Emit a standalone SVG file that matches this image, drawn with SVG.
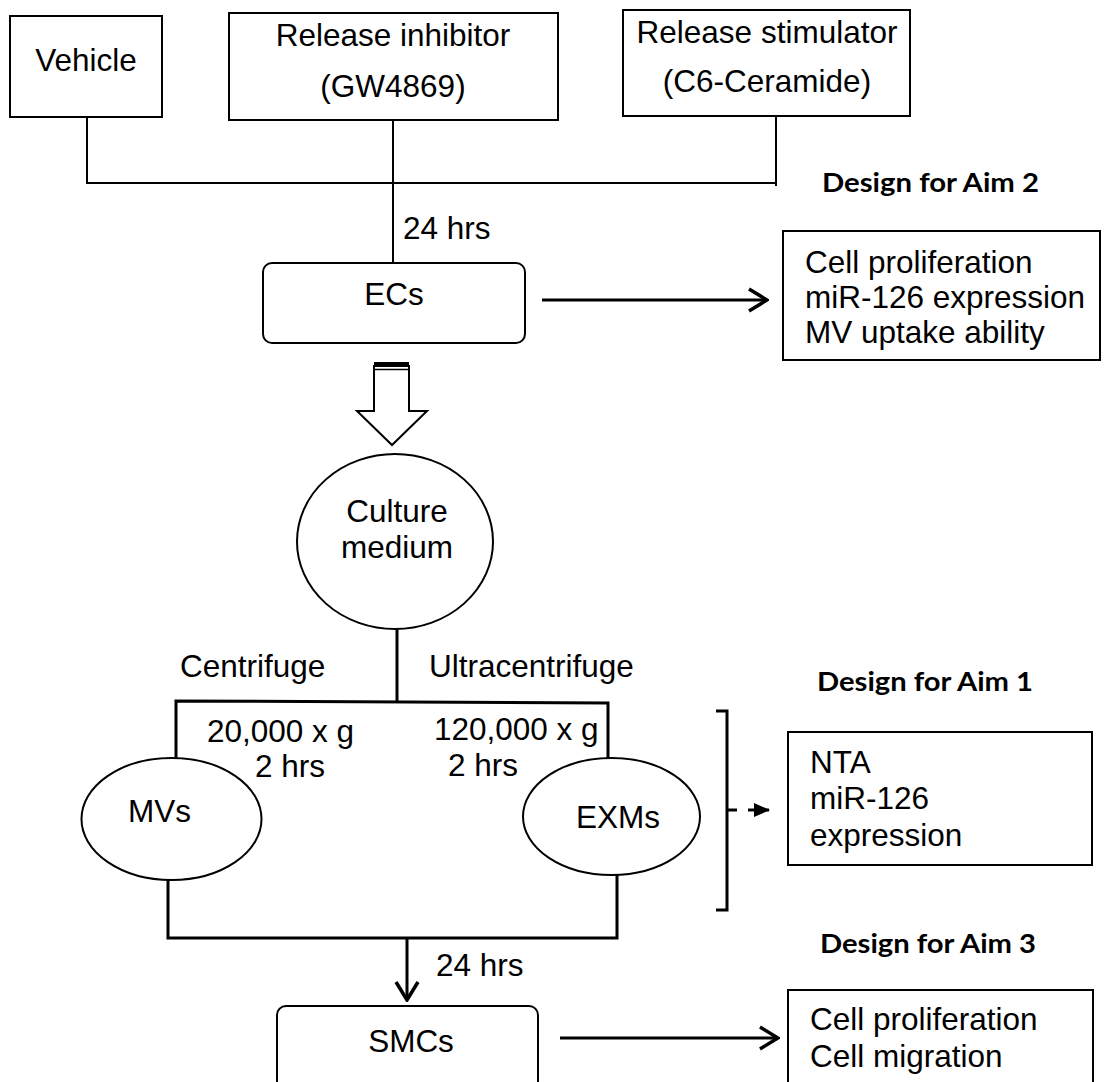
<svg xmlns="http://www.w3.org/2000/svg" width="1116" height="1082" viewBox="0 0 1116 1082">
<style>
.t{font-family:"Liberation Sans",Arial,sans-serif;font-size:31.5px;fill:#000}
.b{font-family:Lato,"Open Sans",sans-serif;font-size:26px;font-weight:bold;fill:#000}
.box{fill:#fff;stroke:#000;stroke-width:2}
.ln{fill:none;stroke:#000;stroke-width:2}
.tk{fill:none;stroke:#000;stroke-width:3}
</style>
<defs>
<marker id="chev" viewBox="0 0 22 26" refX="20" refY="13" markerWidth="22" markerHeight="26" markerUnits="userSpaceOnUse" orient="auto">
<path d="M2,2 L20,13 L2,24" fill="none" stroke="#000" stroke-width="3.5"/>
</marker>
<marker id="tri" viewBox="0 0 16 16" refX="15" refY="8" markerWidth="16" markerHeight="16" markerUnits="userSpaceOnUse" orient="auto">
<path d="M0,1 L16,8 L0,15 Z" fill="#000"/>
</marker>
</defs>
<rect width="1116" height="1082" fill="#fff"/>

<g id="connectors">
<polyline class="ln" points="87,117 87,183 776,183 776,116"/>
<line class="ln" x1="776" y1="183" x2="776" y2="186"/>
<line class="ln" x1="393" y1="120" x2="393" y2="263"/>
<line class="tk" x1="542" y1="300" x2="767" y2="300" marker-end="url(#chev)"/>
<line class="tk" x1="397" y1="629" x2="397" y2="701"/>
<polyline class="tk" points="176,758 176,701 608,703 608,759"/>
<polyline class="tk" points="168,880 168,938 617,938 617,875"/>
<line class="tk" x1="407" y1="938" x2="407" y2="1000" marker-end="url(#chev)"/>
<line class="tk" x1="560" y1="1038" x2="778" y2="1038" marker-end="url(#chev)"/>
<polyline class="tk" points="716,711 727,711 727,910 716,910"/>
<line x1="727" y1="810" x2="737" y2="810" stroke="#000" stroke-width="3"/>
<line x1="748" y1="810" x2="769" y2="810" stroke="#000" stroke-width="3" marker-end="url(#tri)"/>
</g>

<g id="vehicle">
<rect class="box" x="10" y="16" width="152" height="101"/>
<text class="t" x="86" y="71" text-anchor="middle">Vehicle</text>
</g>
<g id="inhibitor">
<rect class="box" x="229" y="13" width="329" height="107"/>
<text class="t" x="393" y="46" text-anchor="middle">Release inhibitor</text>
<text class="t" x="393" y="97" text-anchor="middle">(GW4869)</text>
</g>
<g id="stimulator">
<rect class="box" x="623" y="10" width="287" height="106"/>
<text class="t" x="767" y="43" text-anchor="middle">Release stimulator</text>
<text class="t" x="767" y="92" text-anchor="middle">(C6-Ceramide)</text>
</g>
<g id="label-aim2"><text class="b" x="822" y="192" textLength="217" lengthAdjust="spacingAndGlyphs">Design for Aim 2</text></g>
<g id="label-24a"><text class="t" x="403" y="239">24 hrs</text></g>
<g id="ecs">
<rect class="box" x="263" y="263" width="262" height="80" rx="9"/>
<text class="t" x="394" y="305" text-anchor="middle">ECs</text>
</g>
<g id="aim2-results">
<rect class="box" x="783" y="231" width="317" height="129"/>
<text class="t" x="805" y="273">Cell proliferation</text>
<text class="t" x="805" y="308">miR-126 expression</text>
<text class="t" x="805" y="343">MV uptake ability</text>
</g>
<g id="block-arrow">
<path d="M374,366 L409,366 L409,411 L427,411 L392,445 L357,411 L374,411 Z" fill="#fff" stroke="#000" stroke-width="2"/>
<rect x="374" y="362" width="35" height="4" fill="#000"/>
<line x1="374" y1="369.5" x2="409" y2="369.5" stroke="#000" stroke-width="1.5"/>
</g>
<g id="culture">
<ellipse class="box" cx="395" cy="541.5" rx="98" ry="87.5"/>
<text class="t" x="397" y="522" text-anchor="middle">Culture</text>
<text class="t" x="397" y="558" text-anchor="middle">medium</text>
</g>
<g id="labels-centrifuge">
<text class="t" x="180" y="677">Centrifuge</text>
<text class="t" x="429" y="677">Ultracentrifuge</text>
<text class="t" x="207" y="742">20,000 x g</text>
<text class="t" x="255" y="777">2 hrs</text>
<text class="t" x="434" y="740">120,000 x g</text>
<text class="t" x="448" y="776">2 hrs</text>
</g>
<g id="label-aim1"><text class="b" x="817" y="691" textLength="216" lengthAdjust="spacingAndGlyphs">Design for Aim 1</text></g>
<g id="mvs">
<ellipse class="box" cx="171.5" cy="819" rx="90" ry="61"/>
<text class="t" x="128" y="822">MVs</text>
</g>
<g id="exms">
<ellipse class="box" cx="611.5" cy="816.5" rx="88.5" ry="58.5"/>
<text class="t" x="576" y="828">EXMs</text>
</g>
<g id="aim1-results">
<rect class="box" x="788" y="732" width="304" height="133"/>
<text class="t" x="810" y="773">NTA</text>
<text class="t" x="810" y="809">miR-126</text>
<text class="t" x="810" y="846">expression</text>
</g>
<g id="label-24b"><text class="t" x="436" y="976">24 hrs</text></g>
<g id="label-aim3"><text class="b" x="820" y="953" textLength="216" lengthAdjust="spacingAndGlyphs">Design for Aim 3</text></g>
<g id="smcs">
<rect class="box" x="277" y="1006" width="261" height="90" rx="9"/>
<text class="t" x="411" y="1052" text-anchor="middle">SMCs</text>
</g>
<g id="aim3-results">
<rect class="box" x="788" y="990" width="305" height="110"/>
<text class="t" x="810" y="1030">Cell proliferation</text>
<text class="t" x="810" y="1067">Cell migration</text>
</g>
</svg>
